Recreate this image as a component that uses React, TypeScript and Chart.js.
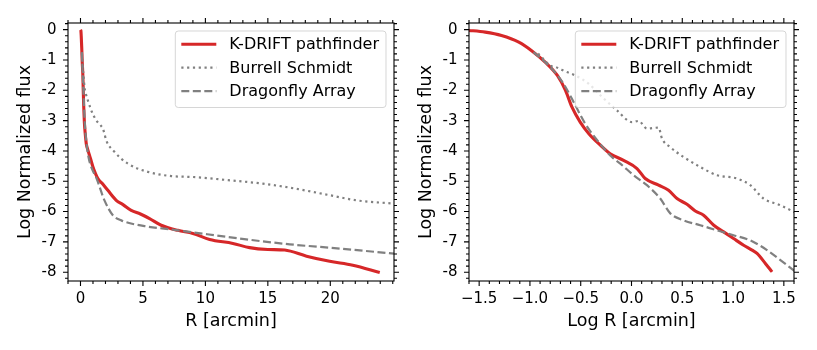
import React, { useEffect, useRef } from 'react';
import { Chart, registerables } from 'chart.js';

Chart.register(...registerables);

// ---------- Data: left panel (linear R) ----------
const LIN_KDRIFT_R = [0, 0.03, 0.06, 0.1, 0.14, 0.19, 0.22, 0.26, 0.31, 0.38, 0.47, 0.6, 0.8, 1.0, 1.39, 1.8, 2.19, 2.86, 3.4, 4.06, 4.8, 5.53, 6.46, 7.8, 9.0, 10.34, 12.2, 13.54, 15.0, 16.35, 18.1, 19.95, 21.8, 23.96];
const LIN_KDRIFT_F = [0, -0.03, -0.22, -0.6, -1.07, -1.51, -2.0, -2.55, -3.05, -3.43, -3.78, -3.98, -4.25, -4.53, -4.91, -5.1, -5.3, -5.63, -5.77, -5.96, -6.08, -6.23, -6.45, -6.62, -6.72, -6.92, -7.05, -7.19, -7.25, -7.27, -7.47, -7.64, -7.77, -8.01];

const LIN_BURRELL_R = [0.12, 0.18, 0.24, 0.32, 0.45, 0.59, 0.9, 1.26, 1.6, 1.79, 1.9, 2.06, 2.72, 3.79, 5.39, 7.27, 9.0, 11.5, 14.6, 16.75, 19.95, 22.1, 25.2];
const LIN_BURRELL_F = [-0.79, -1.23, -1.5, -1.89, -2.15, -2.33, -2.7, -2.99, -3.15, -3.26, -3.4, -3.65, -4.03, -4.42, -4.69, -4.83, -4.86, -4.95, -5.08, -5.21, -5.46, -5.63, -5.74];

const LIN_DRAGONFLY_R = [0.11, 0.22, 0.28, 0.35, 0.47, 0.64, 0.93, 1.26, 1.92, 2.59, 3.26, 5.13, 7.27, 8.73, 12.74, 16.75, 20.75, 25.2];
const LIN_DRAGONFLY_F = [-0.74, -1.89, -2.49, -3.1, -3.7, -4.2, -4.6, -4.88, -5.63, -6.12, -6.29, -6.48, -6.59, -6.67, -6.89, -7.08, -7.22, -7.39];

// ---------- Data: right panel (log R) ----------
const LOG_KDRIFT_X = [-1.62, -1.44, -1.28, -1.11, -0.98, -0.85, -0.73, -0.65, -0.587, -0.505, -0.42, -0.31, -0.21, -0.078, 0.054, 0.135, 0.267, 0.365, 0.448, 0.546, 0.628, 0.71, 0.81, 0.907, 1.005, 1.104, 1.187, 1.236, 1.318, 1.384];
const LOG_KDRIFT_F = [-0.02, -0.08, -0.19, -0.41, -0.7, -1.07, -1.51, -2.0, -2.55, -3.05, -3.43, -3.8, -4.09, -4.31, -4.58, -4.91, -5.13, -5.3, -5.57, -5.76, -5.98, -6.12, -6.45, -6.67, -6.89, -7.11, -7.27, -7.38, -7.71, -7.99];

const LOG_BURRELL_X = [-0.92, -0.79, -0.75, -0.65, -0.554, -0.423, -0.29, -0.143, 0.004, 0.07, 0.152, 0.267, 0.3, 0.38, 0.513, 0.677, 0.842, 1.039, 1.17, 1.3, 1.466, 1.62];
const LOG_BURRELL_F = [-0.79, -1.2, -1.23, -1.38, -1.51, -1.78, -2.22, -2.66, -3.05, -3.01, -3.26, -3.23, -3.59, -3.87, -4.2, -4.53, -4.8, -4.91, -5.13, -5.57, -5.79, -6.05];

const LOG_DRAGONFLY_X = [-0.965, -0.85, -0.73, -0.65, -0.554, -0.456, -0.325, -0.193, -0.11, 0.02, 0.152, 0.283, 0.382, 0.513, 0.677, 0.842, 1.005, 1.17, 1.334, 1.466, 1.62];
const LOG_DRAGONFLY_F = [-0.74, -1.07, -1.5, -1.89, -2.49, -3.1, -3.7, -4.2, -4.42, -4.8, -5.13, -5.57, -6.06, -6.29, -6.45, -6.62, -6.78, -6.95, -7.27, -7.6, -8.0];

// ---------- Series labels ----------
const SERIES_LABELS = ['K-DRIFT pathfinder', 'Burrell Schmidt', 'Dragonfly Array'];

// ---------- Ticks ----------
const Y_TICKS = [0, -1, -2, -3, -4, -5, -6, -7, -8];
const Y_TICK_LABELS = ['0', '-1', '-2', '-3', '-4', '-5', '-6', '-7', '-8'];
const LIN_X_TICKS = [0, 5, 10, 15, 20];
const LIN_X_TICK_LABELS = ['0', '5', '10', '15', '20'];
const LOG_X_TICKS = [-1.5, -1.0, -0.5, 0.0, 0.5, 1.0, 1.5];
const LOG_X_TICK_LABELS = ['\u22121.5', '\u22121.0', '\u22120.5', '0.0', '0.5', '1.0', '1.5'];

const FONT = "'DejaVu Sans', 'Liberation Sans', sans-serif";
const RED = '#d62728';
const GRAY = '#808080';

const zip = (xs: number[], ys: number[]) => xs.map((x, i) => ({ x, y: ys[i] }));

function minorRange(min: number, max: number, step: number, majors: number[]) {
  const out: number[] = [];
  const start = Math.ceil(min / step - 1e-9);
  const end = Math.floor(max / step + 1e-9);
  for (let k = start; k <= end; k++) {
    const v = +(k * step).toFixed(6);
    if (!majors.some((m) => Math.abs(m - v) < 1e-6)) out.push(v);
  }
  return out;
}

const framePlugin = (xMinorStep: number, yMinorStep: number, xMajors: number[], yMajors: number[]) => ({
  id: 'frameTicks',
  afterDraw(chart: any) {
    const { ctx, chartArea: a, scales } = chart;
    const x = scales.x;
    const y = scales.y;
    ctx.save();
    ctx.strokeStyle = '#000';
    ctx.lineWidth = 1.1;
    ctx.beginPath();
    const seg = (x1: number, y1: number, x2: number, y2: number) => {
      ctx.moveTo(x1, y1);
      ctx.lineTo(x2, y2);
    };
    const xs = (v: number, len: number) => {
      const p = x.getPixelForValue(v);
      if (p < a.left - 0.5 || p > a.right + 0.5) return;
      seg(p, a.bottom, p, a.bottom + len);
      seg(p, a.top, p, a.top - len);
    };
    const ys = (v: number, len: number) => {
      const p = y.getPixelForValue(v);
      if (p < a.top - 0.5 || p > a.bottom + 0.5) return;
      seg(a.left, p, a.left - len, p);
      seg(a.right, p, a.right + len, p);
    };
    xMajors.forEach((v) => xs(v, 5));
    yMajors.forEach((v) => ys(v, 5));
    minorRange(x.min, x.max, xMinorStep, xMajors).forEach((v) => xs(v, 3));
    minorRange(y.min, y.max, yMinorStep, yMajors).forEach((v) => ys(v, 3));
    ctx.stroke();
    ctx.strokeRect(a.left, a.top, a.right - a.left, a.bottom - a.top);
    ctx.restore();
  },
});

const legendPlugin = {
  id: 'innerLegend',
  afterDatasetsDraw(chart: any) {
    const { ctx, chartArea: a } = chart;
    const ds = chart.data.datasets;
    ctx.save();
    ctx.font = `16px ${FONT}`;
    const tw = Math.max(...ds.map((d: any) => ctx.measureText(d.label).width));
    const w = 54 + tw + 7;
    const h = 76.5;
    const right = a.right - 8;
    const left = right - w;
    const top = a.top + 8;
    const r = 3;
    ctx.beginPath();
    ctx.moveTo(left + r, top);
    ctx.arcTo(left + w, top, left + w, top + h, r);
    ctx.arcTo(left + w, top + h, left, top + h, r);
    ctx.arcTo(left, top + h, left, top, r);
    ctx.arcTo(left, top, left + w, top, r);
    ctx.closePath();
    ctx.fillStyle = 'rgba(255,255,255,0.8)';
    ctx.fill();
    ctx.strokeStyle = 'rgba(204,204,204,0.8)';
    ctx.lineWidth = 1;
    ctx.stroke();
    ds.forEach((d: any, i: number) => {
      const cy = top + 13.3 + i * 23.4;
      ctx.beginPath();
      ctx.setLineDash(d.borderDash || []);
      ctx.strokeStyle = d.borderColor;
      ctx.lineWidth = d.borderWidth;
      ctx.lineCap = 'butt';
      ctx.moveTo(left + 6, cy);
      ctx.lineTo(left + 41, cy);
      ctx.stroke();
      ctx.setLineDash([]);
      ctx.fillStyle = '#000';
      ctx.textBaseline = 'middle';
      ctx.textAlign = 'left';
      ctx.fillText(d.label, left + 54, cy + 1);
    });
    ctx.restore();
  },
};

type PanelProps = {
  width: number;
  left: number;
  yAxisWidth: number;
  padRight: number;
  yTitlePad: number;
  xMin: number;
  xMax: number;
  xTicks: number[];
  xTickLabels: string[];
  xMinor: number;
  xTitle: string;
  series: { x: number; y: number }[][];
};

function Panel(p: PanelProps) {
  const ref = useRef<HTMLCanvasElement>(null);
  useEffect(() => {
    if (!ref.current) return;
    const styles = [
      { borderColor: RED, borderWidth: 3.1, borderDash: [] as number[] },
      { borderColor: GRAY, borderWidth: 2.2, borderDash: [2.2, 3.6] },
      { borderColor: GRAY, borderWidth: 2.2, borderDash: [8, 3.5] },
    ];
    const datasets = p.series.map((data, i) => ({
      label: SERIES_LABELS[i],
      data,
      ...styles[i],
      pointRadius: 0,
      fill: false,
      cubicInterpolationMode: 'monotone' as const,
      clip: 0,
      order: 3 - i,
    }));
    const chart = new Chart(ref.current, {
      type: 'line',
      data: { datasets: datasets as any },
      options: {
        animation: false,
        responsive: false,
        devicePixelRatio: 1,
        layout: { padding: { top: 23, right: p.padRight, left: 0, bottom: 0 } },
        plugins: { legend: { display: false }, tooltip: { enabled: false } },
        scales: {
          x: {
            type: 'linear',
            min: p.xMin,
            max: p.xMax,
            afterBuildTicks: (s: any) => {
              s.ticks = p.xTicks.map((v) => ({ value: v }));
            },
            afterFit: (s: any) => {
              s.height = 69;
            },
            ticks: {
              autoSkip: false,
              maxRotation: 0,
              padding: 9.5,
              color: '#000',
              font: { family: FONT, size: 15 },
              callback: (v: any) => {
                const i = p.xTicks.findIndex((t) => Math.abs(t - v) < 1e-9);
                return i >= 0 ? p.xTickLabels[i] : '';
              },
            },
            grid: { display: false, drawTicks: false },
            border: { display: false },
            title: {
              display: true,
              text: p.xTitle,
              color: '#000',
              font: { family: FONT, size: 17.5 },
              padding: { top: 0, bottom: 18.5 },
            },
          },
          y: {
            type: 'linear',
            min: -8.29,
            max: 0.22,
            afterBuildTicks: (s: any) => {
              s.ticks = Y_TICKS.map((v) => ({ value: v }));
            },
            afterFit: (s: any) => {
              s.width = p.yAxisWidth;
            },
            ticks: {
              autoSkip: false,
              padding: 11.5,
              color: '#000',
              font: { family: FONT, size: 15 },
              callback: (v: any) => {
                const i = Y_TICKS.findIndex((t) => Math.abs(t - v) < 1e-9);
                return i >= 0 ? Y_TICK_LABELS[i] : '';
              },
            },
            grid: { display: false, drawTicks: false },
            border: { display: false },
            title: {
              display: true,
              text: 'Log Normalized flux',
              color: '#000',
              font: { family: FONT, size: 17.5 },
              padding: { top: p.yTitlePad, bottom: 0 },
            },
          },
        },
      },
      plugins: [framePlugin(p.xMinor, 0.2, p.xTicks, Y_TICKS), legendPlugin],
    });
    return () => chart.destroy();
  }, []);
  return (
    <canvas
      ref={ref}
      width={p.width}
      height={350}
      style={{ position: 'absolute', left: p.left, top: 0, width: p.width, height: 350, display: 'block' }}
    />
  );
}

export default function App() {
  return (
    <div style={{ position: 'absolute', left: 0, top: 0, width: 817, height: 350, background: '#fff' }}>
      <Panel
        width={408}
        left={0}
        yAxisWidth={68}
        padRight={14}
        yTitlePad={15.3}
        xMin={-1.0}
        xMax={25.1}
        xTicks={LIN_X_TICKS}
        xTickLabels={LIN_X_TICK_LABELS}
        xMinor={1}
        xTitle="R [arcmin]"
        series={[
          zip(LIN_KDRIFT_R, LIN_KDRIFT_F),
          zip(LIN_BURRELL_R, LIN_BURRELL_F),
          zip(LIN_DRAGONFLY_R, LIN_DRAGONFLY_F),
        ]}
      />
      <Panel
        width={409}
        left={408}
        yAxisWidth={61}
        padRight={23}
        yTitlePad={7.5}
        xMin={-1.6}
        xMax={1.6}
        xTicks={LOG_X_TICKS}
        xTickLabels={LOG_X_TICK_LABELS}
        xMinor={0.1}
        xTitle="Log R [arcmin]"
        series={[
          zip(LOG_KDRIFT_X, LOG_KDRIFT_F),
          zip(LOG_BURRELL_X, LOG_BURRELL_F),
          zip(LOG_DRAGONFLY_X, LOG_DRAGONFLY_F),
        ]}
      />
    </div>
  );
}
